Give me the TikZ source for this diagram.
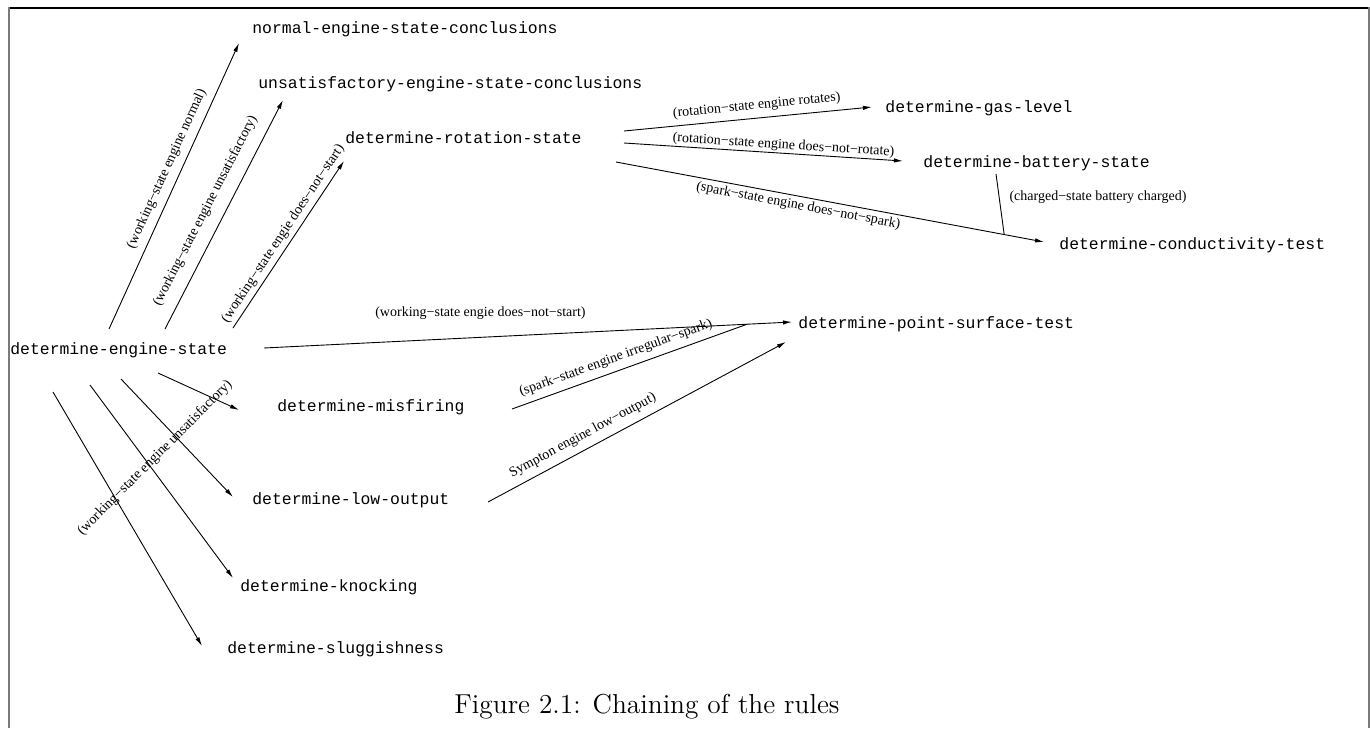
\documentclass[tikz,border=0pt]{standalone}
\usepackage{fontspec}
\newfontfamily\reglafont{Liberation Mono}
\newfontfamily\etiqfont{Liberation Serif}
\usetikzlibrary{arrows.meta}
\definecolor{MarcoGris}{HTML}{7A7A7A}
\tikzset{
  regla/.style={anchor=base west, inner sep=0pt, font=\reglafont\fontsize{8.2pt}{10pt}\selectfont},
  etiqueta/.style={inner sep=0.5pt, font=\etiqfont\fontsize{7pt}{8pt}\selectfont},
  flecha/.style={line width=0.45pt, -{Latex[length=4.5pt,width=2.2pt]}},
  linea/.style={line width=0.45pt},
}

\begin{document}
\begin{tikzpicture}[x=0.5pt, y=-0.5pt]
  \useasboundingbox (0,0) rectangle (1370,728);
  % marco de la pagina
  \draw[line width=1pt] (8,7.5) -- (1369,7.5);
  \draw[MarcoGris, line width=1pt] (8.5,7) -- (8.5,728) (1368.5,7) -- (1368.5,728);

  \node[regla] (motor) at (10,354) {determine-engine-state};
  \node[regla] (normal) at (252,33) {normal-engine-state-conclusions};
  \node[regla] (insatisf) at (258,88) {unsatisfactory-engine-state-conclusions};
  \node[regla] (rotacion) at (345,143) {determine-rotation-state};
  \node[regla] (gas) at (885,112) {determine-gas-level};
  \node[regla] (bateria) at (923,167) {determine-battery-state};
  \node[regla] (conductividad) at (1059,249) {determine-conductivity-test};
  \node[regla] (punto) at (798,328) {determine-point-surface-test};
  \node[regla] (fallo) at (277,411) {determine-misfiring};
  \node[regla] (potencia) at (252,504) {determine-low-output};
  \node[regla] (golpeteo) at (240,591) {determine-knocking};
  \node[regla] (lentitud) at (227,653) {determine-sluggishness};

  % desde el estado del motor
  \draw[flecha] ([shift={(99,-25)}]motor.base west) -- node[etiqueta, sloped, above=2.9pt, pos=0.54] {(working−state engine normal)} ([shift={(-13,10)}]normal.base west);
  \draw[flecha] ([shift={(155,-25)}]motor.base west) -- node[etiqueta, sloped, above=5.2pt, pos=0.48] {(working−state engine unsatisfactory)} ([shift={(25,12)}]insatisf.base west);
  \draw[flecha] ([shift={(223,-26)}]motor.base west) -- node[etiqueta, sloped, above=1.3pt, pos=0.53] {(working−state engie does−not−start)} ([shift={(-1,18)}]rotacion.base west);
  \draw[flecha] ([shift={(254,-6)}]motor.base west) -- node[etiqueta, above=8.3pt, pos=0.41] {(working−state engie does−not−start)} coordinate[pos=0.915] (union1) ([shift={(-6,-6)}]punto.base west);
  \draw[flecha] ([shift={(148,19)}]motor.base west) -- ([shift={(-38,-1)}]fallo.base west);
  \draw[flecha] ([shift={(111,25)}]motor.base west) -- ([shift={(-19,-7)}]potencia.base west);
  \draw[flecha] ([shift={(80,31)}]motor.base west) -- ([shift={(-7,-13)}]golpeteo.base west);
  \draw[flecha] ([shift={(43,38)}]motor.base west) -- ([shift={(-25,-7)}]lentitud.base west);
  \node[etiqueta, rotate=45] (haz) at ([shift={(145,104)}]motor.base west) {(working−state engine unsatisfactory)};

  % hacia la prueba de superficie
  \draw[linea] ([shift={(235,-2)}]fallo.base west) -- node[etiqueta, sloped, above=2.4pt, pos=0.46] {(spark−state engine irregular−spark)} (union1);
  \draw[flecha] ([shift={(236,-2)}]potencia.base west) -- node[etiqueta, sloped, above=2.9pt, pos=0.34] {Sympton engine low−output)} ([shift={(-12,14)}]punto.base west);

  % desde el estado de rotacion
  \draw[flecha] ([shift={(279,-12)}]rotacion.base west) -- node[etiqueta, sloped, above=2.3pt, pos=0.54] {(rotation−state engine rotates)} ([shift={(-13,-5)}]gas.base west);
  \draw[flecha] ([shift={(279,0)}]rotacion.base west) -- node[etiqueta, sloped, above=0pt, pos=0.57] {(rotation−state engine does−not−rotate)} ([shift={(-20,-6)}]bateria.base west);
  \draw[flecha] ([shift={(271,19)}]rotacion.base west) -- node[etiqueta, sloped, below=0.9pt, pos=0.43] {(spark−state engine does−not−spark)} coordinate[pos=0.907] (union2) ([shift={(-15,-7)}]conductividad.base west);
  \draw[linea] ([shift={(73,7)}]bateria.base west) -- node[etiqueta, right=4.5pt, pos=0.38] {(charged−state battery charged)} (union2);

  \node[font=\fontsize{13.7pt}{16pt}\selectfont, anchor=base] (leyenda) at (647,713) {Figure 2.1: Chaining of the rules};
\end{tikzpicture}
\end{document}
